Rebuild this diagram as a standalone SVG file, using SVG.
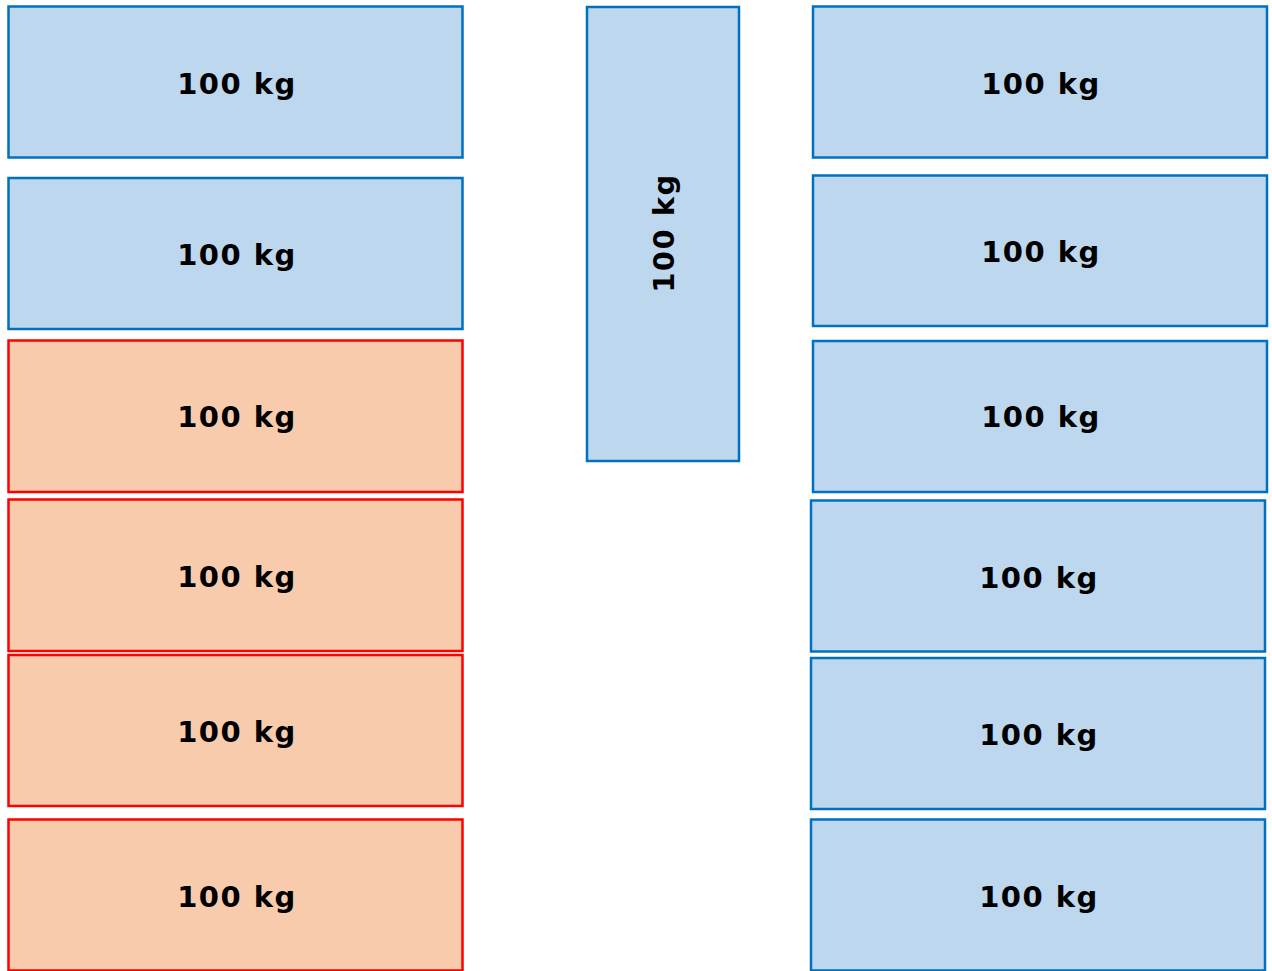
<svg xmlns="http://www.w3.org/2000/svg" width="1272" height="971" viewBox="0 0 1272 971">
<style>
.b{fill:#BDD7EE;stroke:#0070C0;stroke-width:2.5}
.r{fill:#F8CBAD;stroke:#FF0000;stroke-width:2.5}
.t{font-family:"DejaVu Sans",Verdana,sans-serif;font-weight:bold;font-size:29px;letter-spacing:1.5px;text-anchor:middle;dominant-baseline:central;fill:#000}
</style>
<rect width="1272" height="971" fill="#fff"/>
<g id="L1"><rect class="b" x="8.5" y="6.5" width="454" height="151"/><text class="t" x="237" y="84">100 kg</text></g>
<g id="L2"><rect class="b" x="8.5" y="178" width="454" height="151"/><text class="t" x="237" y="255">100 kg</text></g>
<g id="L3"><rect class="r" x="8.5" y="340.5" width="454" height="151.5"/><text class="t" x="237" y="417">100 kg</text></g>
<g id="L4"><rect class="r" x="8.5" y="499.5" width="454" height="151.5"/><text class="t" x="237" y="577">100 kg</text></g>
<g id="L5"><rect class="r" x="8.5" y="655" width="454" height="151"/><text class="t" x="237" y="732">100 kg</text></g>
<g id="L6"><rect class="r" x="8.5" y="819.5" width="454" height="151"/><text class="t" x="237" y="897">100 kg</text></g>
<g id="M1"><rect class="b" x="587" y="7" width="152" height="454"/><text class="t" transform="translate(664,233) rotate(-90)" x="0" y="0">100 kg</text></g>
<g id="R1"><rect class="b" x="813" y="6.5" width="454" height="151"/><text class="t" x="1041" y="84">100 kg</text></g>
<g id="R2"><rect class="b" x="813" y="175.5" width="454" height="150.5"/><text class="t" x="1041" y="252">100 kg</text></g>
<g id="R3"><rect class="b" x="813" y="341" width="454" height="151"/><text class="t" x="1041" y="417">100 kg</text></g>
<g id="R4"><rect class="b" x="811" y="500.5" width="454" height="151"/><text class="t" x="1039" y="578">100 kg</text></g>
<g id="R5"><rect class="b" x="811" y="658" width="454" height="151"/><text class="t" x="1039" y="735">100 kg</text></g>
<g id="R6"><rect class="b" x="811" y="819.5" width="454" height="151"/><text class="t" x="1039" y="897">100 kg</text></g>
<g id="connectors"></g>
</svg>
